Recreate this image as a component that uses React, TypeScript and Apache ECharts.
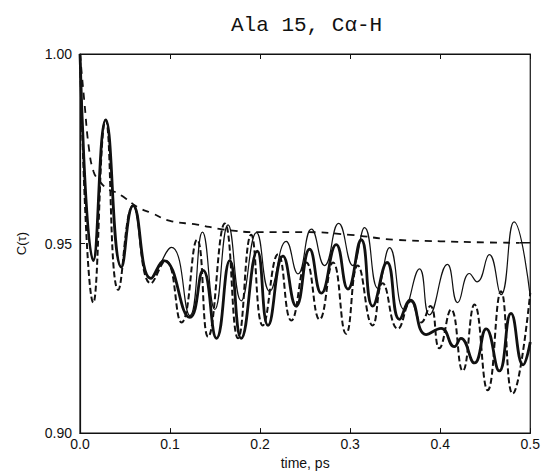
import React, { useEffect, useRef } from "react";
import * as echarts from "echarts";

// time (ps) vs C(tau)
const thinSolid: [number, number][] = [
  [0, 1.0], [0.0148, 0.9455], [0.0285, 0.9826], [0.046, 0.9438], [0.059, 0.96],
  [0.0787, 0.9408], [0.1016, 0.949], [0.122, 0.931], [0.136, 0.953], [0.1497, 0.9326],
  [0.1644, 0.9549], [0.179, 0.9349], [0.196, 0.9529], [0.2106, 0.9374], [0.229, 0.9506],
  [0.242, 0.942], [0.257, 0.9538], [0.2716, 0.9442], [0.2872, 0.9553], [0.303, 0.9442],
  [0.316, 0.9542], [0.3307, 0.9382], [0.3437, 0.9489], [0.36, 0.9326], [0.377, 0.9433],
  [0.388, 0.9312], [0.408, 0.9445], [0.4194, 0.9344], [0.4324, 0.9421], [0.441, 0.9399],
  [0.4545, 0.9471], [0.4675, 0.9365], [0.482, 0.9557], [0.5, 0.936],
];

const thickSolid: [number, number][] = [
  [0, 1.0], [0.0148, 0.9455], [0.0285, 0.9826], [0.046, 0.9438], [0.059, 0.96],
  [0.0787, 0.9408], [0.093, 0.9455], [0.122, 0.9305], [0.1367, 0.9429], [0.1516, 0.925],
  [0.1663, 0.9455], [0.179, 0.925], [0.1968, 0.948], [0.2088, 0.9284], [0.2254, 0.9467],
  [0.24, 0.9335], [0.255, 0.9485], [0.268, 0.9369], [0.2845, 0.9497], [0.2975, 0.938],
  [0.3123, 0.951], [0.325, 0.9335], [0.341, 0.945], [0.3548, 0.93], [0.3668, 0.9351],
  [0.3843, 0.926], [0.401, 0.9276], [0.4157, 0.9228], [0.423, 0.925], [0.438, 0.9185],
  [0.451, 0.9275], [0.4656, 0.9164], [0.4786, 0.9316], [0.492, 0.918], [0.5, 0.924],
];

const dashedOsc: [number, number][] = [
  [0, 1.0], [0.0148, 0.9344], [0.0285, 0.9826], [0.0425, 0.9378], [0.059, 0.96],
  [0.0787, 0.9395], [0.095, 0.9455], [0.1127, 0.9292], [0.13, 0.951], [0.1422, 0.9254],
  [0.1608, 0.9553], [0.1755, 0.925], [0.19, 0.9523], [0.203, 0.9284], [0.22, 0.9472],
  [0.2347, 0.9297], [0.2513, 0.945], [0.266, 0.93], [0.281, 0.945], [0.2955, 0.9262],
  [0.3085, 0.9442], [0.325, 0.9284], [0.336, 0.9395], [0.353, 0.9275], [0.3677, 0.9348],
  [0.3788, 0.9292], [0.389, 0.9335], [0.399, 0.9224], [0.412, 0.9326], [0.425, 0.9164],
  [0.438, 0.9339], [0.4527, 0.9113], [0.4675, 0.9374], [0.4804, 0.9104], [0.5, 0.937],
];

const plateauDashed: [number, number][] = [
  [0, 1.0], [0.005, 0.987], [0.01, 0.975], [0.015, 0.969], [0.02, 0.967], [0.03, 0.9645],
  [0.04, 0.9635], [0.05, 0.962], [0.065, 0.9595], [0.08, 0.958], [0.1, 0.956], [0.13, 0.955],
  [0.16, 0.9537], [0.2, 0.953], [0.25, 0.953], [0.3, 0.9523], [0.35, 0.951], [0.4, 0.9506],
  [0.45, 0.9503], [0.488, 0.9502],
];
const plateauTail: [number, number][] = [[0.488, 0.9502], [0.5, 0.9502]];

const xTicks = [0, 0.1, 0.2, 0.3, 0.4, 0.5];
const yTicks = [0.9, 0.95, 1.0];

const INK = "#111";

export default function App() {
  const ref = useRef<HTMLDivElement>(null);
  useEffect(() => {
    if (!ref.current) return;
    const chart = echarts.init(ref.current, null, { renderer: "svg" });
    const axisFont = { fontFamily: "Liberation Sans", fontSize: 14, color: INK };
    chart.setOption({
      animation: false,
      backgroundColor: "#fff",
      title: {
        text: "Ala 15, C\u03b1-H",
        left: 226,
        top: 10,
        textStyle: { fontFamily: "Liberation Mono", fontSize: 21, fontWeight: "normal", color: INK },
      },
      grid: {
        left: 80, right: 12, top: 54, bottom: 31,
        show: true, borderColor: INK, borderWidth: 1.2, backgroundColor: "transparent",
      },
      xAxis: [
        {
          type: "value", min: xTicks[0], max: xTicks[xTicks.length - 1], interval: 0.1,
          position: "bottom",
          axisLine: { show: true, lineStyle: { color: INK, width: 1.2 } },
          axisTick: { show: true, inside: true, length: 5, lineStyle: { color: INK } },
          splitLine: { show: false },
          axisLabel: { ...axisFont, margin: 4, formatter: (v: number) => v.toFixed(1) },
          name: "time, ps", nameLocation: "middle", nameGap: 20,
          nameTextStyle: { ...axisFont, fontSize: 14 },
        },
        {
          type: "value", min: xTicks[0], max: xTicks[xTicks.length - 1], interval: 0.1,
          position: "top",
          axisLine: { show: true, lineStyle: { color: INK, width: 1.2 } },
          axisTick: { show: true, inside: true, length: 5, lineStyle: { color: INK } },
          splitLine: { show: false }, axisLabel: { show: false },
        },
      ],
      yAxis: {
        type: "value", min: yTicks[0], max: yTicks[yTicks.length - 1], interval: 0.05,
        axisLine: { show: true, lineStyle: { color: INK, width: 1.2 } },
        axisTick: { show: true, inside: true, length: 5, lineStyle: { color: INK } },
        splitLine: { show: false },
        axisLabel: { ...axisFont, margin: 8, formatter: (v: number) => v.toFixed(2) },
        name: "C(\u03c4)", nameLocation: "middle", nameGap: 52, nameRotate: 90,
        nameTextStyle: { ...axisFont, fontSize: 13 },
      },
      series: [
        {
          name: "plateau", type: "line", data: plateauDashed, smooth: true, symbol: "none",
          lineStyle: { color: INK, width: 1.8, type: [7, 6] },
        },
        {
          name: "plateauTail", type: "line", data: plateauTail, symbol: "none",
          lineStyle: { color: INK, width: 1.5 },
        },
        {
          name: "thin", type: "line", data: thinSolid, smooth: true, symbol: "none",
          lineStyle: { color: INK, width: 1.2 },
        },
        {
          name: "dashed", type: "line", data: dashedOsc, smooth: true, symbol: "none",
          lineStyle: { color: INK, width: 2, type: [6, 3] },
        },
        {
          name: "thick", type: "line", data: thickSolid, smooth: true, symbol: "none",
          lineStyle: { color: INK, width: 2.8 },
        },
      ],
    });
    return () => chart.dispose();
  }, []);
  return (
    <div
      ref={ref}
      style={{ position: "fixed", left: 0, top: 0, width: 543, height: 475, background: "#fff" }}
    />
  );
}
